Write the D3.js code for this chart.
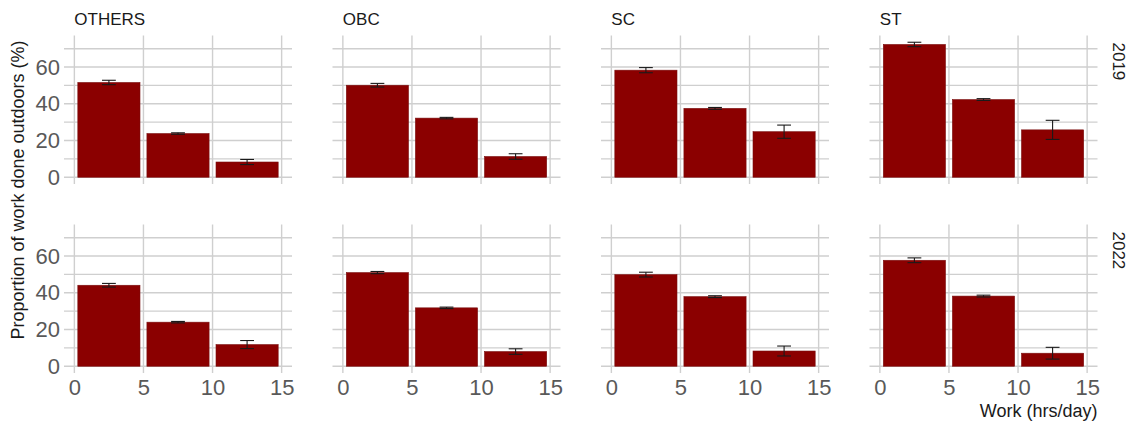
<!DOCTYPE html>
<html>
<head>
<meta charset="utf-8">
<script src="https://cdn.jsdelivr.net/npm/d3@7"></script>
<style>
  html, body { margin: 0; padding: 0; background: #ffffff; }
  svg { display: block; font-family: "Liberation Sans", Arial, Helvetica, sans-serif; }
</style>
</head>
<body>
<svg id="chart" width="1130" height="428"></svg>
<script>
// Caste groups (columns) and survey years (rows)
const groups = ["OTHERS", "OBC", "SC", "ST"];
const years = ["2019", "2022"];

// Work-hour bins (hrs/day): bin centres, bin width 5
const binCentres = [2.5, 7.5, 12.5];
const xTicks = [0, 5, 10, 15];
const yTicks = [0, 20, 40, 60];
const yMinor = [10, 30, 50, 70];

// Share of work done outdoors (%), per group, by bin
const share2019 = {
  OTHERS: [51.6, 23.8, 8.3],
  OBC:    [50.1, 32.2, 11.3],
  SC:     [58.3, 37.5, 24.8],
  ST:     [72.3, 42.3, 25.8]
};
const share2022 = {
  OTHERS: [44.1, 24.0, 11.8],
  OBC:    [51.0, 31.8, 8.0],
  SC:     [49.9, 37.9, 8.3],
  ST:     [57.7, 38.2, 7.1]
};
// Standard errors for the same cells
const se2019 = {
  OTHERS: [1.2, 0.4, 1.4],
  OBC:    [1.0, 0.4, 1.5],
  SC:     [1.4, 0.5, 3.6],
  ST:     [1.2, 0.5, 5.2]
};
const se2022 = {
  OTHERS: [1.0, 0.4, 2.2],
  OBC:    [0.6, 0.4, 1.5],
  SC:     [1.3, 0.5, 2.7],
  ST:     [1.3, 0.5, 3.2]
};

const shareByYear = { "2019": share2019, "2022": share2022 };
const seByYear = { "2019": se2019, "2022": se2022 };

// Layout
const panelLeft = 64, panelW = 228, panelGapX = 40.5;
const panelTop = 35.5, panelH = 148.5, panelGapY = 40.5;
const binWidth = 5, barFrac = 0.9, errWidth = 1;

const svg = d3.select("#chart");

// Shared scales (fixed across facets)
let yMaxData = 0;
years.forEach(yr => groups.forEach(g => shareByYear[yr][g].forEach((v, i) => {
  yMaxData = Math.max(yMaxData, v + seByYear[yr][g][i]);
})));
const yPad = yMaxData * 0.05;
const xPad = 15 * 0.05;

const x = d3.scaleLinear().domain([0 - xPad, 15 + xPad]).range([0, panelW]);
const y = d3.scaleLinear().domain([0 - yPad, yMaxData + yPad]).range([panelH, 0]);

const gridColor = "#cfcfcf";

years.forEach((yr, r) => {
  groups.forEach((g, c) => {
    const px = panelLeft + c * (panelW + panelGapX);
    const py = panelTop + r * (panelH + panelGapY);
    const p = svg.append("g").attr("transform", `translate(${px},${py})`);

    // horizontal grid (major and minor)
    p.selectAll("line.hg")
      .data(yTicks.concat(yMinor))
      .join("line")
      .attr("x1", 0).attr("x2", panelW)
      .attr("y1", d => y(d)).attr("y2", d => y(d))
      .attr("stroke", gridColor).attr("stroke-width", 1.4);

    // vertical grid
    p.selectAll("line.vg")
      .data(xTicks)
      .join("line")
      .attr("x1", d => x(d)).attr("x2", d => x(d))
      .attr("y1", 0).attr("y2", panelH)
      .attr("stroke", gridColor).attr("stroke-width", 1.4);

    const vals = shareByYear[yr][g];
    const errs = seByYear[yr][g];
    const data = binCentres.map((b, i) => ({ b, v: vals[i], e: errs[i] }));

    // bars
    p.selectAll("rect.bar")
      .data(data)
      .join("rect")
      .attr("x", d => x(d.b - binWidth * barFrac / 2))
      .attr("width", d => x(d.b + binWidth * barFrac / 2) - x(d.b - binWidth * barFrac / 2))
      .attr("y", d => y(d.v))
      .attr("height", d => y(0) - y(d.v))
      .attr("fill", "#8b0000")
      .attr("stroke", "#7a1010")
      .attr("stroke-width", 0.6);

    // error bars
    const eb = p.selectAll("g.eb").data(data).join("g")
      .attr("stroke", "#1a1a1a").attr("stroke-width", 1.1).attr("fill", "none");
    eb.append("line")
      .attr("x1", d => x(d.b)).attr("x2", d => x(d.b))
      .attr("y1", d => y(d.v + d.e)).attr("y2", d => y(d.v - d.e));
    eb.append("line")
      .attr("x1", d => x(d.b - errWidth / 2)).attr("x2", d => x(d.b + errWidth / 2))
      .attr("y1", d => y(d.v + d.e)).attr("y2", d => y(d.v + d.e));
    eb.append("line")
      .attr("x1", d => x(d.b - errWidth / 2)).attr("x2", d => x(d.b + errWidth / 2))
      .attr("y1", d => y(d.v - d.e)).attr("y2", d => y(d.v - d.e));

    // strip label (columns) on top row
    if (r === 0) {
      svg.append("text")
        .attr("x", px + x(0))
        .attr("y", py - 11)
        .attr("font-size", 17)
        .attr("fill", "#1a1a1a")
        .text(g);
    }

    // y axis labels on leftmost column
    if (c === 0) {
      const ya = d3.axisLeft(y).tickValues(yTicks).tickSize(0).tickPadding(4).tickFormat(d3.format("d"));
      const ag = p.append("g").call(ya);
      ag.select(".domain").remove();
      ag.selectAll("text")
        .attr("font-size", 22)
        .attr("font-family", "Liberation Sans, Arial, sans-serif")
        .attr("fill", "#595959");
    }

    // x axis labels on bottom row
    if (r === years.length - 1) {
      const xa = d3.axisBottom(x).tickValues(xTicks).tickSize(0).tickPadding(6).tickFormat(d3.format("d"));
      const ag = p.append("g").attr("transform", `translate(0,${panelH})`).call(xa);
      ag.select(".domain").remove();
      ag.selectAll("text")
        .attr("font-size", 22)
        .attr("font-family", "Liberation Sans, Arial, sans-serif")
        .attr("fill", "#595959");
    }

    // row strip label on rightmost column
    if (c === groups.length - 1) {
      svg.append("text")
        .attr("transform", `translate(${px + panelW + 10},${py + 7}) rotate(90)`)
        .attr("font-size", 17)
        .attr("fill", "#1a1a1a")
        .attr("text-anchor", "start")
        .attr("dy", "-0.35em")
        .text(yr);
    }
  });
});

// axis titles
svg.append("text")
  .attr("transform", `translate(24,190) rotate(-90)`)
  .attr("text-anchor", "middle")
  .attr("font-size", 18)
  .attr("fill", "#1a1a1a")
  .text("Proportion of work done outdoors (%)");

svg.append("text")
  .attr("x", panelLeft + 3 * (panelW + panelGapX) + panelW)
  .attr("y", 417)
  .attr("text-anchor", "end")
  .attr("font-size", 18)
  .attr("fill", "#1a1a1a")
  .text("Work (hrs/day)");
</script>
</body>
</html>
